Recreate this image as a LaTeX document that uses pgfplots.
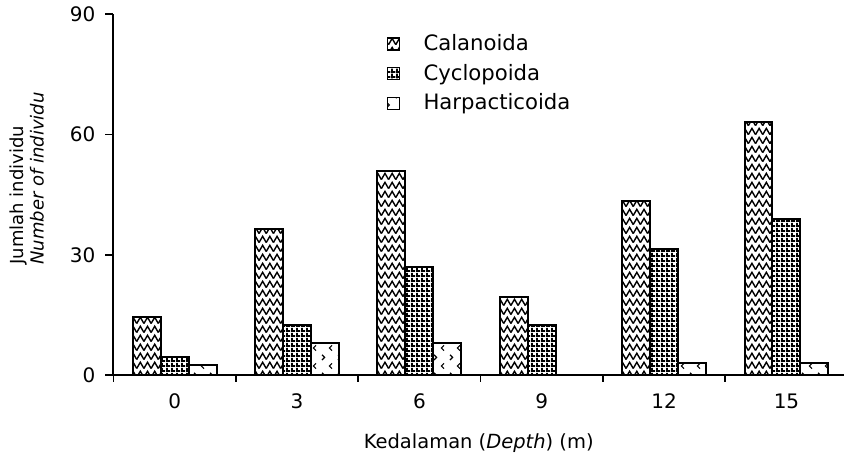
\documentclass[border=0pt]{standalone}
\usepackage{fontspec}
\setmainfont{DejaVu Sans}
\usepackage{pgfplots}
\pgfplotsset{compat=1.18}
\usetikzlibrary{patterns}
\pgfdeclarepatternformonly{zigzag}{\pgfpoint{-0.5pt}{-0.5pt}}{\pgfpoint{4pt}{5pt}}{\pgfpoint{3.6pt}{4.5pt}}{
  \pgfsetlinewidth{0.7pt}
  \pgfpathmoveto{\pgfpoint{0pt}{0.5pt}}
  \pgfpathlineto{\pgfpoint{1.8pt}{3.6pt}}
  \pgfpathlineto{\pgfpoint{3.6pt}{0.5pt}}
  \pgfusepath{stroke}}
\pgfdeclarepatternformonly{densegrid}{\pgfpoint{0pt}{0pt}}{\pgfpoint{2.3pt}{2.3pt}}{\pgfpoint{2.3pt}{2.3pt}}{
  \pgfpathrectangle{\pgfpoint{0pt}{0pt}}{\pgfpoint{2.3pt}{1.0pt}}
  \pgfpathrectangle{\pgfpoint{0pt}{0pt}}{\pgfpoint{1.0pt}{2.3pt}}
  \pgfusepath{fill}}
\pgfdeclarepatternformonly{chevrons}{\pgfpoint{0pt}{0pt}}{\pgfpoint{8pt}{9pt}}{\pgfpoint{8pt}{9pt}}{
  \pgfsetlinewidth{0.6pt}
  \pgfpathmoveto{\pgfpoint{1.5pt}{7.6pt}}
  \pgfpathlineto{\pgfpoint{2.8pt}{6.3pt}}
  \pgfpathlineto{\pgfpoint{1.5pt}{5.0pt}}
  \pgfpathmoveto{\pgfpoint{6.5pt}{3.3pt}}
  \pgfpathlineto{\pgfpoint{5.2pt}{2pt}}
  \pgfpathlineto{\pgfpoint{6.5pt}{0.7pt}}
  \pgfusepath{stroke}}
\begin{document}
\begin{tikzpicture}
\begin{axis}[
  scale only axis,
  width=365.5pt, height=180.5pt,
  ybar=0pt, bar width=14pt,
  xmin=-0.5, xmax=5.47,
  ymin=0, ymax=90,
  ytick={0,30,60,90},
  xtick={0,1,2,3,4,5},
  xticklabels={0,3,6,9,12,15},
  minor xtick={-0.5,0.5,1.5,2.5,3.5,4.5},
  x tick style={draw=none},
  minor x tick style={draw=black, line width=0.9pt},
  y tick style={draw=black, line width=0.9pt},
  minor tick length=3.5pt,
  major tick length=4pt,
  tick align=outside,
  axis lines*=left,
  axis line style={line width=1pt},
  /pgf/number format/assume math mode=true,
  tick label style={font=\fontsize{10}{12}\selectfont},
  yticklabel style={xshift=-1.5pt},
  xticklabel style={yshift=-2pt},
  xlabel={Kedalaman (\textit{Depth}) (m)},
  ylabel={Jumlah individu\\\textit{Number of individu}},
  ylabel style={align=left, font=\fontsize{9}{10}\selectfont, at={(ticklabel cs:0.545)}, inner sep=5pt, yshift=4.5pt},
  xlabel style={font=\fontsize{9.75}{11}\selectfont, yshift=-5.5pt},
  legend style={at={(rel axis cs:0.371,0.967)}, xshift=-2pt, anchor=north west, draw=none, fill=none,
    font=\fontsize{10.6}{12.5}\selectfont, row sep=1.3pt, legend cell align=left},
  legend image code/.code={\draw[#1, line width=0.7pt] (0pt,-3pt) rectangle (6pt,3pt); \path[draw=none,fill=none,pattern=none] (16pt,0pt);},
]
\addplot[draw=black, line width=1pt, pattern=zigzag] coordinates {(0,14.5) (1,36.5) (2,51) (3,19.5) (4,43.5) (5,63)};
\addplot[draw=black, line width=1pt, pattern=densegrid] coordinates {(0,4.5) (1,12.5) (2,27) (3,12.5) (4,31.5) (5,39)};
\addplot[draw=black, line width=1pt, pattern=chevrons] coordinates {(0,2.5) (1,8) (2,8) (4,3) (5,3)};
\legend{Calanoida, Cyclopoida, Harpacticoida}
\end{axis}
\end{tikzpicture}
\end{document}
